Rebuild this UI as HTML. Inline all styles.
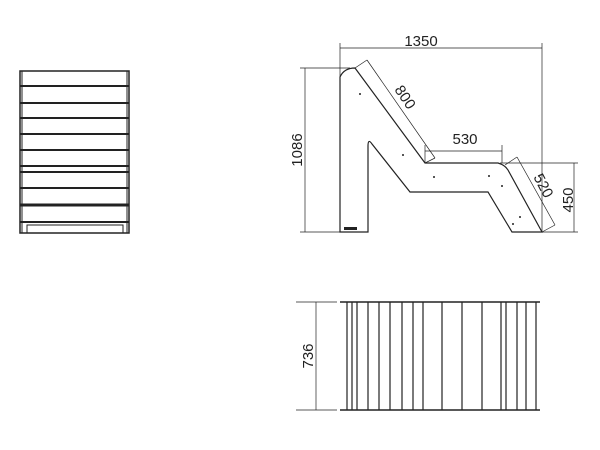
<!DOCTYPE html>
<html><head><style>body{margin:0;background:#fff}svg{display:block}text{font-family:"Liberation Sans",sans-serif;font-size:15px;fill:#222}</style></head><body>
<svg width="600" height="450" viewBox="0 0 600 450" xmlns="http://www.w3.org/2000/svg">
<g fill="none" stroke="#222" stroke-width="1">
<rect x="20" y="71" width="109" height="162" stroke-width="1.5"/>
<line x1="22" y1="71" x2="22" y2="233"/><line x1="127" y1="71" x2="127" y2="233"/>
<g stroke-width="2">
<line x1="20" y1="86" x2="129" y2="86"/><line x1="20" y1="103" x2="129" y2="103"/><line x1="20" y1="118" x2="129" y2="118"/><line x1="20" y1="134" x2="129" y2="134"/><line x1="20" y1="150" x2="129" y2="150"/><line x1="20" y1="166" x2="129" y2="166"/><line x1="20" y1="172" x2="129" y2="172"/><line x1="20" y1="188" x2="129" y2="188"/><line x1="20" y1="205" x2="129" y2="205" stroke-width="3"/><line x1="20" y1="222" x2="129" y2="222"/>
</g>
<rect x="27" y="225" width="96" height="8"/>
<path d="M340 232 L340 77 Q344 68 355 68 L425 163 L498 163 Q505 165 508 170 L542 232 L512 232 L488 192 L410 192 L372 144 Q368 138 368 146 L368 232 Z" stroke-width="1.2"/>
<g stroke-width="0.7">
<line x1="340" y1="43" x2="340" y2="77"/><line x1="542" y1="43" x2="542" y2="232"/><line x1="340" y1="48" x2="542" y2="48"/>
<line x1="300" y1="68" x2="350" y2="68"/><line x1="300" y1="232" x2="340" y2="232"/><line x1="305" y1="68" x2="305" y2="232"/>
<line x1="355" y1="68" x2="367" y2="60"/><line x1="425" y1="163" x2="435" y2="158"/><line x1="367" y1="60" x2="435" y2="158"/>
<line x1="425" y1="145" x2="425" y2="163"/><line x1="502" y1="145" x2="502" y2="163"/><line x1="425" y1="151" x2="502" y2="151"/>
<line x1="505" y1="165" x2="517" y2="157"/><line x1="542" y1="232" x2="555" y2="225"/><line x1="517" y1="157" x2="555" y2="225"/>
<line x1="500" y1="163" x2="578" y2="163"/><line x1="542" y1="232" x2="578" y2="232"/><line x1="574" y1="163" x2="574" y2="232"/>
</g>
<line x1="340" y1="302" x2="540" y2="302" stroke-width="1.5"/><line x1="340" y1="410" x2="540" y2="410" stroke-width="1.5"/>
<line x1="296" y1="302" x2="337" y2="302" stroke-width="0.7"/><line x1="296" y1="410" x2="337" y2="410" stroke-width="0.7"/><line x1="316" y1="302" x2="316" y2="410" stroke-width="0.7"/>
<g stroke-width="1.2">
<line x1="347" y1="302" x2="347" y2="410"/><line x1="352" y1="302" x2="352" y2="410"/><line x1="357" y1="302" x2="357" y2="410"/><line x1="368" y1="302" x2="368" y2="410"/><line x1="379" y1="302" x2="379" y2="410"/><line x1="390" y1="302" x2="390" y2="410"/><line x1="402" y1="302" x2="402" y2="410"/><line x1="413" y1="302" x2="413" y2="410"/><line x1="423" y1="302" x2="423" y2="410"/><line x1="442" y1="302" x2="442" y2="410"/><line x1="462" y1="302" x2="462" y2="410"/><line x1="482" y1="302" x2="482" y2="410"/><line x1="501" y1="302" x2="501" y2="410"/><line x1="506" y1="302" x2="506" y2="410"/><line x1="517" y1="302" x2="517" y2="410"/><line x1="526" y1="302" x2="526" y2="410"/><line x1="536" y1="302" x2="536" y2="410"/>
</g>
</g>
<g fill="#222"><circle cx="360" cy="94" r="1"/><circle cx="403" cy="155" r="1"/><circle cx="434" cy="177" r="1"/><circle cx="489" cy="176" r="1"/><circle cx="502" cy="186" r="1"/><circle cx="520" cy="217" r="1"/><circle cx="513" cy="224" r="1"/><rect x="344" y="227" width="13" height="3"/></g>
<text x="421" y="46" text-anchor="middle">1350</text>
<text transform="translate(302,150) rotate(-90)" text-anchor="middle">1086</text>
<text transform="translate(401,100) rotate(56)" text-anchor="middle">800</text>
<text x="465" y="144" text-anchor="middle">530</text>
<text transform="translate(539,188) rotate(62)" text-anchor="middle">520</text>
<text transform="translate(573,200) rotate(-90)" text-anchor="middle">450</text>
<text transform="translate(313,356) rotate(-90)" text-anchor="middle">736</text>
</svg>
</body></html>
